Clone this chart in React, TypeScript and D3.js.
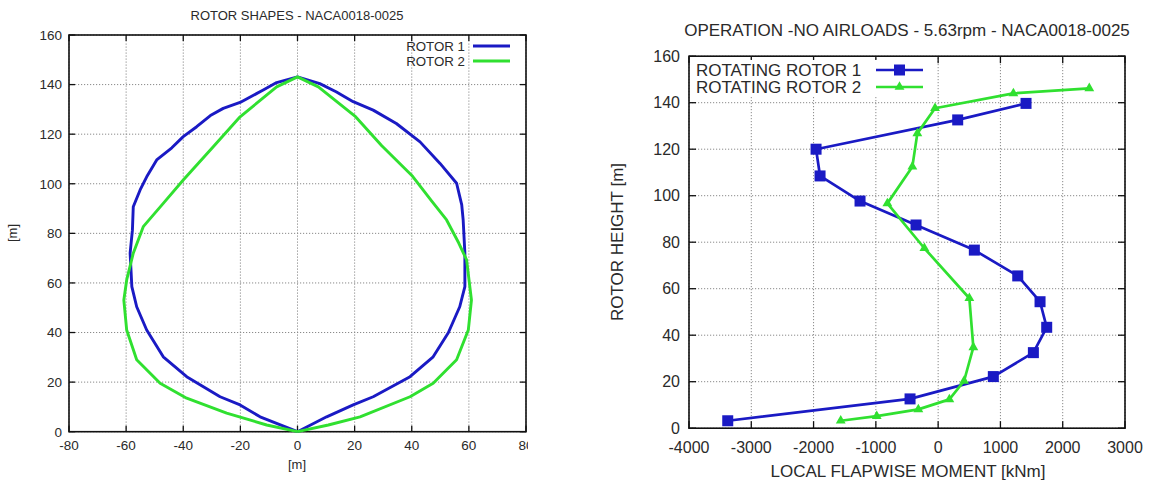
import React from 'react';
import * as d3 from 'd3';

// ---------- Left chart: rotor shapes ----------
const shapeTitle = 'ROTOR SHAPES - NACA0018-0025';
const shapeXTicks = [-80, -60, -40, -20, 0, 20, 40, 60, 80];
const shapeYTicks = [0, 20, 40, 60, 80, 100, 120, 140, 160];
const shapeSeriesNames = ['ROTOR 1', 'ROTOR 2'];

const rotor1ShapeX = [
  0, -13.1, -20.1, -27.1, -38.8, -47.0, -52.8, -56.3, -58.0, -58.6, -57.8, -57.5, -55.1, -52.8, -49.3, -44.0, -40.0,
  -35.3, -30.5, -26.0, -20.1, -12.0, -7.3, 0,
  7.8, 13.5, 19.5, 26.5, 34.6, 42.9, 49.9, 55.7, 57.5, 58.0, 58.6, 58.6, 56.8, 52.8, 47.5, 39.4, 26.5, 19.5, 10.2, 0,
];
const rotor1ShapeZ = [
  0, 6.0, 10.8, 14.1, 22.2, 30.2, 41.0, 50.4, 58.5, 72.0, 81.3, 90.7, 97.5, 102.8, 109.6, 114.5, 119.0,
  123.0, 127.5, 130.4, 132.8, 137.8, 140.8, 143.1,
  140.4, 137.1, 133.1, 129.7, 124.3, 116.9, 108.2, 100.2, 91.5, 85.4, 72.0, 58.5, 50.4, 39.9, 30.2, 22.2, 14.1, 10.8, 6.0, 0,
];
const rotor2ShapeX = [
  0, -10.8, -24.8, -38.8, -48.1, -56.3, -59.8, -60.8, -59.8, -57.5, -54.0, -47.0, -40.0, -29.5, -20.1, -7.3, 0,
  7.3, 20.1, 29.5, 40.3, 47.0, 52.2, 56.5, 59.2, 60.9, 59.8, 55.7, 47.5, 39.4, 21.9, 10.8, 0,
];
const rotor2ShapeZ = [
  0, 2.7, 7.5, 13.5, 19.5, 29.0, 41.0, 53.1, 61.2, 72.0, 82.7, 92.1, 101.5, 114.9, 127.0, 139.1, 143.1,
  139.1, 127.3, 115.3, 103.0, 93.0, 85.4, 76.0, 69.3, 53.1, 41.0, 29.0, 19.5, 14.1, 6.0, 2.7, 0,
];

// ---------- Right chart: flapwise moment ----------
const momentTitle = 'OPERATION -NO AIRLOADS - 5.63rpm - NACA0018-0025';
const momentXTicks = [-4000, -3000, -2000, -1000, 0, 1000, 2000, 3000];
const momentYTicks = [0, 20, 40, 60, 80, 100, 120, 140, 160];
const momentSeriesNames = ['ROTATING ROTOR 1', 'ROTATING ROTOR 2'];

const rotor1Moment = [-3378, -451, 886, 1529, 1743, 1636, 1278, 581, -355, -1254, -1896, -1960, 314, 1411];
const rotor1Height = [3.2, 12.6, 22.2, 32.5, 43.4, 54.4, 65.5, 76.6, 87.4, 97.7, 108.5, 120.0, 132.6, 139.7];
const rotor2Moment = [-1564, -986, -318, 180, 416, 565, 501, -221, -815, -414, -334, -50, 1208, 2427];
const rotor2Height = [3.2, 5.2, 8.1, 12.4, 20.3, 34.8, 55.9, 77.4, 96.7, 112.5, 126.8, 137.6, 144.0, 146.2];

const BLUE = '#1a1ac4';
const GREEN = '#30e030';
const TEXT = '#2a2a2a';
const FONT = '"Liberation Sans", Arial, Helvetica, sans-serif';

function Frame({ x, y, xTicks, yTicks, tickLen, fontSize, xFmt, xLabelY, yLabelX }: any) {
  const [x0, x1] = x.range();
  const [y0, y1] = y.range(); // y0 bottom, y1 top
  return (
    <g>
      {xTicks.map((t: number) => (
        <line key={'gx' + t} x1={x(t)} x2={x(t)} y1={y0} y2={y1} stroke="#8a8a8a" strokeWidth={1} strokeDasharray="1.2,1.8" />
      ))}
      {yTicks.map((t: number) => (
        <line key={'gy' + t} x1={x0} x2={x1} y1={y(t)} y2={y(t)} stroke="#8a8a8a" strokeWidth={1} strokeDasharray="1.2,1.8" />
      ))}
      {xTicks.map((t: number) => (
        <g key={'tx' + t}>
          <line x1={x(t)} x2={x(t)} y1={y0} y2={y0 - tickLen} stroke="#111" strokeWidth={1.3} />
          <line x1={x(t)} x2={x(t)} y1={y1} y2={y1 + tickLen} stroke="#111" strokeWidth={1.3} />
          <text x={x(t)} y={xLabelY} textAnchor="middle" fontSize={fontSize} fill={TEXT} fontFamily={FONT}>
            {xFmt(t)}
          </text>
        </g>
      ))}
      {yTicks.map((t: number) => (
        <g key={'ty' + t}>
          <line x1={x0} x2={x0 + tickLen} y1={y(t)} y2={y(t)} stroke="#111" strokeWidth={1.3} />
          <line x1={x1} x2={x1 - tickLen} y1={y(t)} y2={y(t)} stroke="#111" strokeWidth={1.3} />
          <text x={yLabelX} y={y(t)} dy="0.36em" textAnchor="end" fontSize={fontSize} fill={TEXT} fontFamily={FONT}>
            {t}
          </text>
        </g>
      ))}
      <rect x={x0} y={y1} width={x1 - x0} height={y0 - y1} fill="none" stroke="#111" strokeWidth={1.6} />
    </g>
  );
}

export default function App() {
  // Left chart scales
  const sx = d3.scaleLinear().domain([-80, 80]).range([69, 526]);
  const sy = d3.scaleLinear().domain([0, 160]).range([431.7, 35]);
  const r1 = rotor1ShapeX.map((v, i) => [sx(v), sy(rotor1ShapeZ[i])] as [number, number]);
  const r2 = rotor2ShapeX.map((v, i) => [sx(v), sy(rotor2ShapeZ[i])] as [number, number]);
  const pathGen = d3.line();

  // Right chart scales
  const mx = d3.scaleLinear().domain([-4000, 3000]).range([689, 1125]);
  const my = d3.scaleLinear().domain([0, 160]).range([428.2, 56.2]);
  const m1 = rotor1Moment.map((v, i) => [mx(v), my(rotor1Height[i])] as [number, number]);
  const m2 = rotor2Moment.map((v, i) => [mx(v), my(rotor2Height[i])] as [number, number]);

  const tri = d3.symbol().type(d3.symbolTriangle).size(42)();
  const sq = 11;

  return (
    <svg width={1154} height={481} style={{ position: 'absolute', left: 0, top: 0, background: '#fff' }}>
      <rect x={0} y={0} width={1154} height={481} fill="#fff" />
      {/* Left chart, clipped at the right like the reference */}
      <svg x={0} y={0} width={528} height={481} overflow="hidden">
        <text x={297} y={19.5} textAnchor="middle" fontSize={13} fill={TEXT} fontFamily={FONT}>
          {shapeTitle}
        </text>
        <Frame x={sx} y={sy} xTicks={shapeXTicks} yTicks={shapeYTicks} tickLen={6} fontSize={13.5}
          xFmt={(t: number) => String(t)} xLabelY={449.5} yLabelX={62} />
        <path d={pathGen(r1) || ''} fill="none" stroke={BLUE} strokeWidth={2.9} strokeLinejoin="round" />
        <path d={pathGen(r2) || ''} fill="none" stroke={GREEN} strokeWidth={2.9} strokeLinejoin="round" />
        {/* legend */}
        {shapeSeriesNames.map((n, i) => (
          <g key={n}>
            <text x={465} y={46 + i * 15} dy="0.36em" textAnchor="end" fontSize={13.3} fill={TEXT} fontFamily={FONT}>
              {n}
            </text>
            <line x1={473} x2={510} y1={46 + i * 15} y2={46 + i * 15} stroke={i === 0 ? BLUE : GREEN} strokeWidth={2.9} />
          </g>
        ))}
        <text x={297} y={469} textAnchor="middle" fontSize={13} fill={TEXT} fontFamily={FONT}>
          [m]
        </text>
        <text transform={`translate(17,233) rotate(-90)`} textAnchor="middle" fontSize={13} fill={TEXT} fontFamily={FONT}>
          [m]
        </text>
      </svg>

      {/* Right chart */}
      <text x={907} y={36} textAnchor="middle" fontSize={17} fill={TEXT} fontFamily={FONT}>
        {momentTitle}
      </text>
      <Frame x={mx} y={my} xTicks={momentXTicks} yTicks={momentYTicks} tickLen={7} fontSize={16}
        xFmt={(t: number) => String(t)} xLabelY={452.5} yLabelX={680} />
      <path d={pathGen(m1) || ''} fill="none" stroke={BLUE} strokeWidth={2.7} strokeLinejoin="round" />
      {m1.map(([px, py], i) => (
        <rect key={'s' + i} x={px - sq / 2} y={py - sq / 2} width={sq} height={sq} fill={BLUE} />
      ))}
      <path d={pathGen(m2) || ''} fill="none" stroke={GREEN} strokeWidth={2.7} strokeLinejoin="round" />
      {m2.map(([px, py], i) => (
        <path key={'t' + i} d={tri || ''} transform={`translate(${px},${py})`} fill={GREEN} />
      ))}
      {/* legend */}
      <rect x={692} y={60} width={238} height={36} fill="#fff" />
      {momentSeriesNames.map((n, i) => {
        const ly = 70 + i * 17;
        return (
          <g key={n}>
            <text x={696} y={ly} dy="0.36em" textAnchor="start" fontSize={17} fill={TEXT} fontFamily={FONT}>
              {n}
            </text>
            <line x1={876} x2={923} y1={ly} y2={ly} stroke={i === 0 ? BLUE : GREEN} strokeWidth={2.7} />
            {i === 0 ? (
              <rect x={899.5 - sq / 2} y={ly - sq / 2} width={sq} height={sq} fill={BLUE} />
            ) : (
              <path d={tri || ''} transform={`translate(899.5,${ly})`} fill={GREEN} />
            )}
          </g>
        );
      })}
      <text x={908} y={476.5} textAnchor="middle" fontSize={17} fill={TEXT} fontFamily={FONT}>
        LOCAL FLAPWISE MOMENT [kNm]
      </text>
      <text transform={`translate(623,242) rotate(-90)`} textAnchor="middle" fontSize={17} fill={TEXT} fontFamily={FONT}>
        ROTOR HEIGHT [m]
      </text>
    </svg>
  );
}
